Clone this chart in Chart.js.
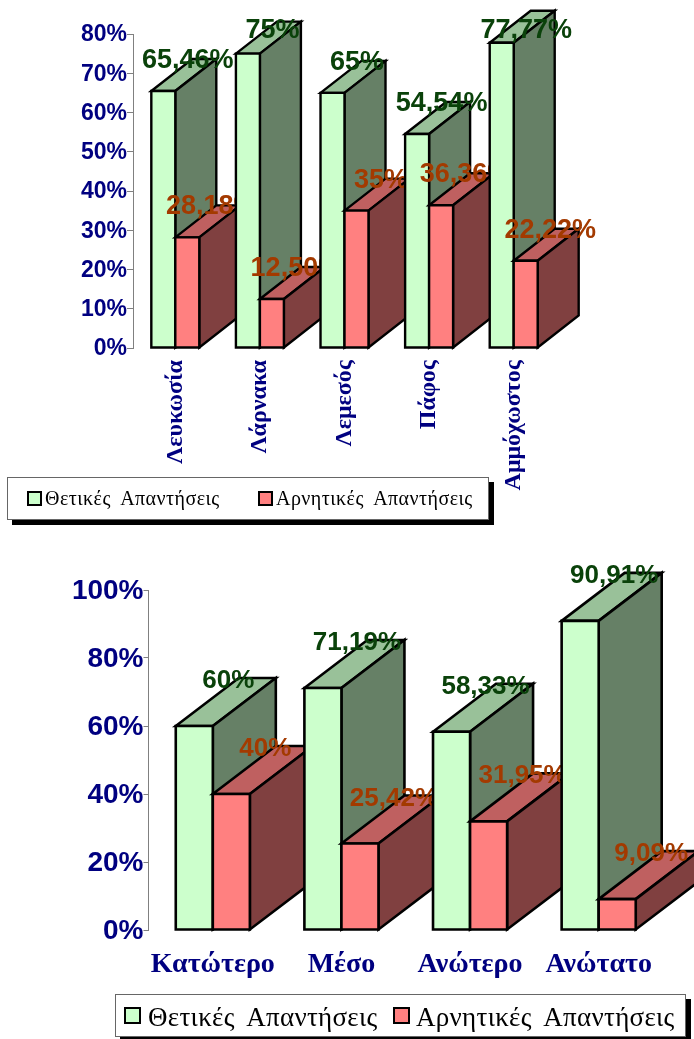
<!DOCTYPE html>
<html lang="el">
<head>
<meta charset="utf-8">
<title>Θετικές και Αρνητικές Απαντήσεις</title>
<script src="https://cdn.jsdelivr.net/npm/chart.js@4/dist/chart.umd.min.js"></script>
<style>
  html, body { margin: 0; padding: 0; background: #fff; overflow: hidden; }
  body { position: relative; width: 694px; height: 1039px; }
  canvas { position: absolute; left: 0; }
  .legend { position: absolute; box-sizing: border-box; background: #fff; border: 1px solid #666;
            box-shadow: 5px 5px 0 #000; font-family: "Liberation Serif", serif; color: #000; }
  .legend i { position: absolute; box-sizing: border-box; border: 2px solid #000; }
  .legend span { position: absolute; white-space: nowrap; line-height: 1; }
</style>
</head>
<body>
<canvas id="regions" style="top:0"></canvas>
<canvas id="levels" style="top:535px"></canvas>
<div id="legend-regions" class="legend"></div>
<div id="legend-levels" class="legend"></div>
<script>
const seriesNames = ['Θετικές Απαντήσεις', 'Αρνητικές Απαντήσεις'];

const regionNames = ['Λευκωσία', 'Λάρνακα', 'Λεμεσός', 'Πάφος', 'Αμμόχωστος'];
const regionPositive = [65.46, 75, 65, 54.54, 77.77];
const regionNegative = [28.18, 12.50, 35, 36.36, 22.22];
const regionPositiveLabels = ['65,46%', '75%', '65%', '54,54%', '77,77%'];
const regionNegativeLabels = ['28,18%', '12,50%', '35%', '36,36%', '22,22%'];

const levelNames = ['Κατώτερο', 'Μέσο', 'Ανώτερο', 'Ανώτατο'];
const levelPositive = [60, 71.19, 58.33, 90.91];
const levelNegative = [40, 25.42, 31.95, 9.09];
const levelPositiveLabels = ['60%', '71,19%', '58,33%', '90,91%'];
const levelNegativeLabels = ['40%', '25,42%', '31,95%', '9,09%'];

const faceColors = [
  { front: '#CCFFCC', top: '#99C199', side: '#668066', text: '#0A420A' },
  { front: '#FF8080', top: '#BF6060', side: '#804040', text: '#A33A00' }
];

// Draws each category in turn as extruded boxes, so later groups cover earlier value labels.
const extrudedBars = {
  id: 'extrudedBars',
  beforeDatasetsDraw(chart, args, opts) {
    const ctx = chart.ctx;
    const metas = chart.data.datasets.map((d, i) => chart.getDatasetMeta(i));
    ctx.save();
    ctx.lineWidth = opts.stroke;
    ctx.strokeStyle = '#000';
    ctx.lineJoin = 'miter';
    chart.data.labels.forEach((name, c) => {
      metas.forEach((meta, s) => {
        const bar = meta.data[c];
        const left = bar.x - bar.width / 2, right = bar.x + bar.width / 2;
        const poly = (pts, fill) => {
          ctx.beginPath();
          pts.forEach((p, i) => i ? ctx.lineTo(p[0], p[1]) : ctx.moveTo(p[0], p[1]));
          ctx.closePath();
          ctx.fillStyle = fill;
          ctx.fill();
          ctx.stroke();
        };
        poly([[left, bar.y], [left + opts.dx, bar.y - opts.dy], [right + opts.dx, bar.y - opts.dy], [right, bar.y]], faceColors[s].top);
        poly([[right, bar.y], [right + opts.dx, bar.y - opts.dy], [right + opts.dx, bar.base - opts.dy], [right, bar.base]], faceColors[s].side);
        poly([[left, bar.y], [right, bar.y], [right, bar.base], [left, bar.base]], faceColors[s].front);
      });
      ctx.font = 'bold ' + opts.labelSize + 'px "Liberation Sans", Arial, sans-serif';
      ctx.textAlign = 'center';
      ctx.textBaseline = 'alphabetic';
      metas.forEach((meta, s) => {
        const bar = meta.data[c];
        ctx.fillStyle = faceColors[s].text;
        ctx.fillText(opts.valueLabels[s][c], bar.x + opts.labelDx, Math.max(bar.y - opts.labelDy, opts.labelMinY));
      });
    });
    ctx.restore();
    return false;
  }
};

function makeChart(id, cfg) {
  const canvas = document.getElementById(id);
  canvas.width = 694;
  canvas.height = cfg.height;
  canvas.style.width = '694px';
  canvas.style.height = cfg.height + 'px';
  return new Chart(canvas, {
    type: 'bar',
    plugins: [extrudedBars],
    data: {
      labels: cfg.names,
      datasets: [
        { label: seriesNames[0], data: cfg.positive, backgroundColor: faceColors[0].front },
        { label: seriesNames[1], data: cfg.negative, backgroundColor: faceColors[1].front }
      ]
    },
    options: {
      responsive: false,
      animation: false,
      events: [],
      layout: { padding: cfg.padding },
      datasets: { bar: { barPercentage: 1, categoryPercentage: cfg.groupShare } },
      plugins: {
        legend: { display: false },
        tooltip: { enabled: false },
        extrudedBars: {
          dx: cfg.dx, dy: cfg.dy, stroke: cfg.stroke,
          labelDx: cfg.labelDx, labelDy: cfg.labelDy, labelMinY: cfg.labelMinY, labelSize: cfg.labelSize,
          valueLabels: [cfg.positiveLabels, cfg.negativeLabels]
        }
      },
      scales: {
        x: {
          grid: { display: false },
          border: { display: false },
          afterFit(scale) { scale.height = cfg.xHeight; },
          ticks: {
            autoSkip: false,
            minRotation: cfg.xRotation,
            maxRotation: cfg.xRotation,
            padding: cfg.xPad,
            color: '#000080',
            font: { family: '"Liberation Serif", serif', weight: 'bold', size: cfg.xSize }
          }
        },
        y: {
          min: 0,
          max: cfg.max,
          afterFit(scale) { scale.width = cfg.yWidth; },
          border: { color: '#808080', width: 1 },
          grid: { drawOnChartArea: false, color: '#808080', tickLength: cfg.tick },
          ticks: {
            stepSize: cfg.step,
            padding: 0,
            labelOffset: 1,
            color: '#000080',
            font: { family: '"Liberation Sans", Arial, sans-serif', weight: 'bold', size: cfg.ySize },
            callback: v => v + '%'
          }
        }
      }
    }
  });
}

makeChart('regions', {
  height: 535, names: regionNames, positive: regionPositive, negative: regionNegative,
  positiveLabels: regionPositiveLabels, negativeLabels: regionNegativeLabels,
  padding: { left: 0, top: 34, right: 138, bottom: 27 },
  groupShare: 0.567, dx: 41, dy: 32, stroke: 2.4, labelDx: 24.5, labelDy: 23, labelMinY: 38, labelSize: 27,
  max: 80, step: 10, yWidth: 133, ySize: 23, tick: 6,
  xHeight: 160, xRotation: 90, xPad: 4, xSize: 24
});

makeChart('levels', {
  height: 504, names: levelNames, positive: levelPositive, negative: levelNegative,
  positiveLabels: levelPositiveLabels, negativeLabels: levelNegativeLabels,
  padding: { left: 0, top: 55, right: 31, bottom: 49 },
  groupShare: 0.576, dx: 63, dy: 48, stroke: 2.6, labelDx: 34, labelDy: 38, labelMinY: 0, labelSize: 26,
  max: 100, step: 20, yWidth: 148.5, ySize: 28, tick: 5,
  xHeight: 60, xRotation: 0, xPad: 10, xSize: 28
});

// Legend frames with swatches taken from the same series colours.
function buildLegend(id, l) {
  const el = document.getElementById(id);
  el.style.cssText = `left:${l.x}px;top:${l.y}px;width:${l.w}px;height:${l.h}px;font-size:${l.font}px;word-spacing:${l.wordGap}px;letter-spacing:${l.letter}px`;
  seriesNames.forEach((name, i) => {
    const box = document.createElement('i');
    box.style.cssText = `left:${l.boxX[i] - l.x}px;top:${l.boxY - l.y}px;width:${l.box}px;height:${l.box}px;background:${faceColors[i].front}`;
    const text = document.createElement('span');
    text.style.cssText = `left:${l.textX[i] - l.x}px;top:${l.textY - l.y}px`;
    text.textContent = name;
    el.append(box, text);
  });
}
buildLegend('legend-regions', { x: 7, y: 477, w: 482, h: 43, font: 20, wordGap: 5, letter: 0.45,
  boxX: [26, 257], boxY: 490, box: 15, textX: [44, 275], textY: 487 });
buildLegend('legend-levels', { x: 115, y: 994, w: 571, h: 43, font: 27, wordGap: 6, letter: 0.3,
  boxX: [123, 392], boxY: 1006, box: 17, textX: [147, 415], textY: 1003 });
</script>
</body>
</html>
